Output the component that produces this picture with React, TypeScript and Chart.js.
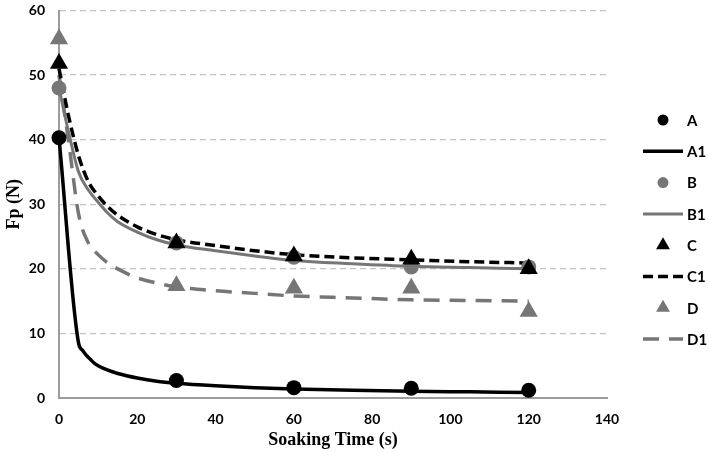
import React, { useEffect, useRef } from "react";
import { Chart, registerables } from "chart.js";

Chart.register(...registerables);

// ---- data ----
const measuredTimes = [0, 30, 60, 90, 120];
const seriesA = [40.3, 2.7, 1.6, 1.5, 1.2];
const seriesB = [48.0, 24.0, 21.8, 20.3, 20.3];
const seriesC = [51.8, 24.0, 22.0, 21.5, 20.0];
const seriesD = [55.6, 17.4, 17.0, 17.0, 13.4];

const fitA1Times = [0, 5, 6, 7, 8, 9, 10, 12.5, 15, 20, 25, 30, 40, 50, 60, 75, 90, 105, 120];
const fitA1 = [40.3, 8.5, 7.4, 6.6, 6.0, 5.4, 5.0, 4.3, 3.8, 3.1, 2.6, 2.3, 1.9, 1.6, 1.4, 1.2, 1.05, 0.95, 0.85];

const modelTimes = [0, 2.5, 5, 7.5, 10, 12.5, 15, 20, 25, 30, 40, 50, 60, 75, 90, 105, 120];
const fitB1 = [48.0, 41.0, 35.0, 32.2, 30.3, 28.6, 27.3, 25.7, 24.5, 23.7, 22.8, 22.0, 21.3, 20.8, 20.4, 20.2, 20.0];
const fitC1 = [51.0, 43.5, 37.5, 33.5, 31.3, 29.6, 28.3, 26.5, 25.3, 24.5, 23.6, 22.8, 22.2, 21.7, 21.4, 21.1, 20.9];
const fitD1 = [50.0, 39.5, 28.5, 24.0, 22.2, 20.9, 20.0, 18.6, 17.8, 17.2, 16.6, 16.2, 15.8, 15.5, 15.2, 15.1, 15.0];

const legendLabels = ["A", "A1", "B", "B1", "C", "C1", "D", "D1"];
const xTickValues = [0, 20, 40, 60, 80, 100, 120, 140];
const yTickValues = [0, 10, 20, 30, 40, 50, 60];
const xTitle = "Soaking Time (s)";
const yTitle = "Fp (N)";

const BLACK = "#000000";
const GREY = "#767676";

const toPoints = (xs: number[], ys: number[]) => xs.map((x, i) => ({ x, y: ys[i] }));

const legendPlugin = {
  id: "sideLegend",
  afterDraw(chart: any) {
    const ctx = chart.ctx as CanvasRenderingContext2D;
    const right = chart.chartArea.right;
    const lineStart = right + 36;
    const lineEnd = right + 76;
    const markerX = right + 56;
    const textX = right + 80;
    const y0 = 120;
    const step = 31.3;
    chart.data.datasets.forEach((ds: any, i: number) => {
      const y = y0 + i * step;
      ctx.save();
      if (ds.showLine) {
        ctx.strokeStyle = ds.borderColor;
        ctx.lineWidth = ds.borderWidth;
        ctx.setLineDash(ds.borderDash || []);
        ctx.beginPath();
        ctx.moveTo(lineStart, y);
        ctx.lineTo(lineEnd, y);
        ctx.stroke();
      } else {
        ctx.fillStyle = ds.pointBackgroundColor;
        ctx.beginPath();
        if (ds.pointStyle === "triangle") {
          const r = 8;
          ctx.moveTo(markerX, y - r);
          ctx.lineTo(markerX + r * 0.866, y + r * 0.5);
          ctx.lineTo(markerX - r * 0.866, y + r * 0.5);
          ctx.closePath();
        } else {
          ctx.arc(markerX, y, 5.5, 0, Math.PI * 2);
        }
        ctx.fill();
      }
      ctx.setLineDash([]);
      ctx.fillStyle = "#000";
      ctx.font = "bold 15px Lato";
      ctx.textBaseline = "middle";
      ctx.textAlign = "left";
      ctx.fillText(legendLabels[i], textX, y + 1);
      ctx.restore();
    });
  },
};

export default function App() {
  const canvasRef = useRef<HTMLCanvasElement | null>(null);

  useEffect(() => {
    const canvas = canvasRef.current;
    if (!canvas) return;

    const markerSet = (label: string, ys: number[], color: string, style: string, radius: number, order: number) => ({
      label,
      data: toPoints(measuredTimes, ys),
      showLine: false,
      pointStyle: style,
      pointRadius: radius,
      pointHoverRadius: radius,
      pointBackgroundColor: color,
      pointBorderColor: color,
      pointBorderWidth: 0,
      clip: false,
      order,
    });

    const lineSet = (label: string, xs: number[], ys: number[], color: string, dash: number[], width: number) => ({
      label,
      data: toPoints(xs, ys),
      showLine: true,
      borderColor: color,
      backgroundColor: color,
      borderWidth: width,
      borderDash: dash,
      pointRadius: 0,
      pointHoverRadius: 0,
      cubicInterpolationMode: "monotone",
      fill: false,
      clip: false,
      order: 5,
    });

    const chart = new Chart(canvas, {
      type: "scatter",
      data: {
        datasets: [
          markerSet("A", seriesA, BLACK, "circle", 7.5, 0),
          lineSet("A1", fitA1Times, fitA1, BLACK, [], 3.5),
          markerSet("B", seriesB, GREY, "circle", 7.5, 3),
          lineSet("B1", modelTimes, fitB1, GREY, [], 3),
          markerSet("C", seriesC, BLACK, "triangle", 10.5, 1),
          lineSet("C1", modelTimes, fitC1, BLACK, [10, 5], 3.5),
          markerSet("D", seriesD, GREY, "triangle", 10.5, 2),
          lineSet("D1", modelTimes, fitD1, GREY, [16, 10], 3.5),
        ] as any,
      },
      options: {
        animation: false,
        responsive: false,
        devicePixelRatio: 1,
        layout: { padding: { top: 5, right: 102, bottom: 0, left: 0 } },
        plugins: {
          legend: { display: false },
          tooltip: { enabled: false },
        },
        scales: {
          x: {
            type: "linear",
            min: 0,
            max: 140,
            afterBuildTicks: (scale: any) => {
              scale.ticks = xTickValues.map((v) => ({ value: v }));
            },
            ticks: {
              color: "#000",
              font: { family: "Lato", weight: "bold", size: 14 },
              padding: 13,
            },
            grid: { display: false, drawTicks: false },
            border: { display: true, color: "#9c9c9c", width: 2 },
            title: {
              display: true,
              text: xTitle,
              color: "#000",
              font: { family: "Liberation Serif", weight: "bold", size: 18 },
              padding: { top: 0, bottom: 2 },
            },
            afterFit: (scale: any) => {
              scale.height = 55;
              scale.paddingLeft = 0;
              scale.paddingRight = 0;
            },
          },
          y: {
            type: "linear",
            min: 0,
            max: 60,
            afterBuildTicks: (scale: any) => {
              scale.ticks = yTickValues.map((v) => ({ value: v }));
            },
            ticks: {
              color: "#000",
              font: { family: "Lato", weight: "bold", size: 14 },
              padding: 14,
            },
            grid: { color: "#c4c4c4", lineWidth: 1.3, drawTicks: false },
            border: { display: true, color: "#9c9c9c", width: 2, dash: [6, 4] },
            title: {
              display: true,
              text: yTitle,
              color: "#000",
              font: { family: "Liberation Serif", weight: "bold", size: 18 },
              padding: { top: 4, bottom: 0 },
            },
            afterFit: (scale: any) => {
              scale.width = 59;
              scale.paddingTop = 0;
              scale.paddingBottom = 0;
            },
          },
        },
      } as any,
      plugins: [legendPlugin],
    });

    return () => chart.destroy();
  }, []);

  return (
    <div style={{ position: "fixed", left: 0, top: 0, width: 709, height: 453, background: "#fff" }}>
      <canvas ref={canvasRef} width={709} height={453} style={{ display: "block" }} />
    </div>
  );
}
